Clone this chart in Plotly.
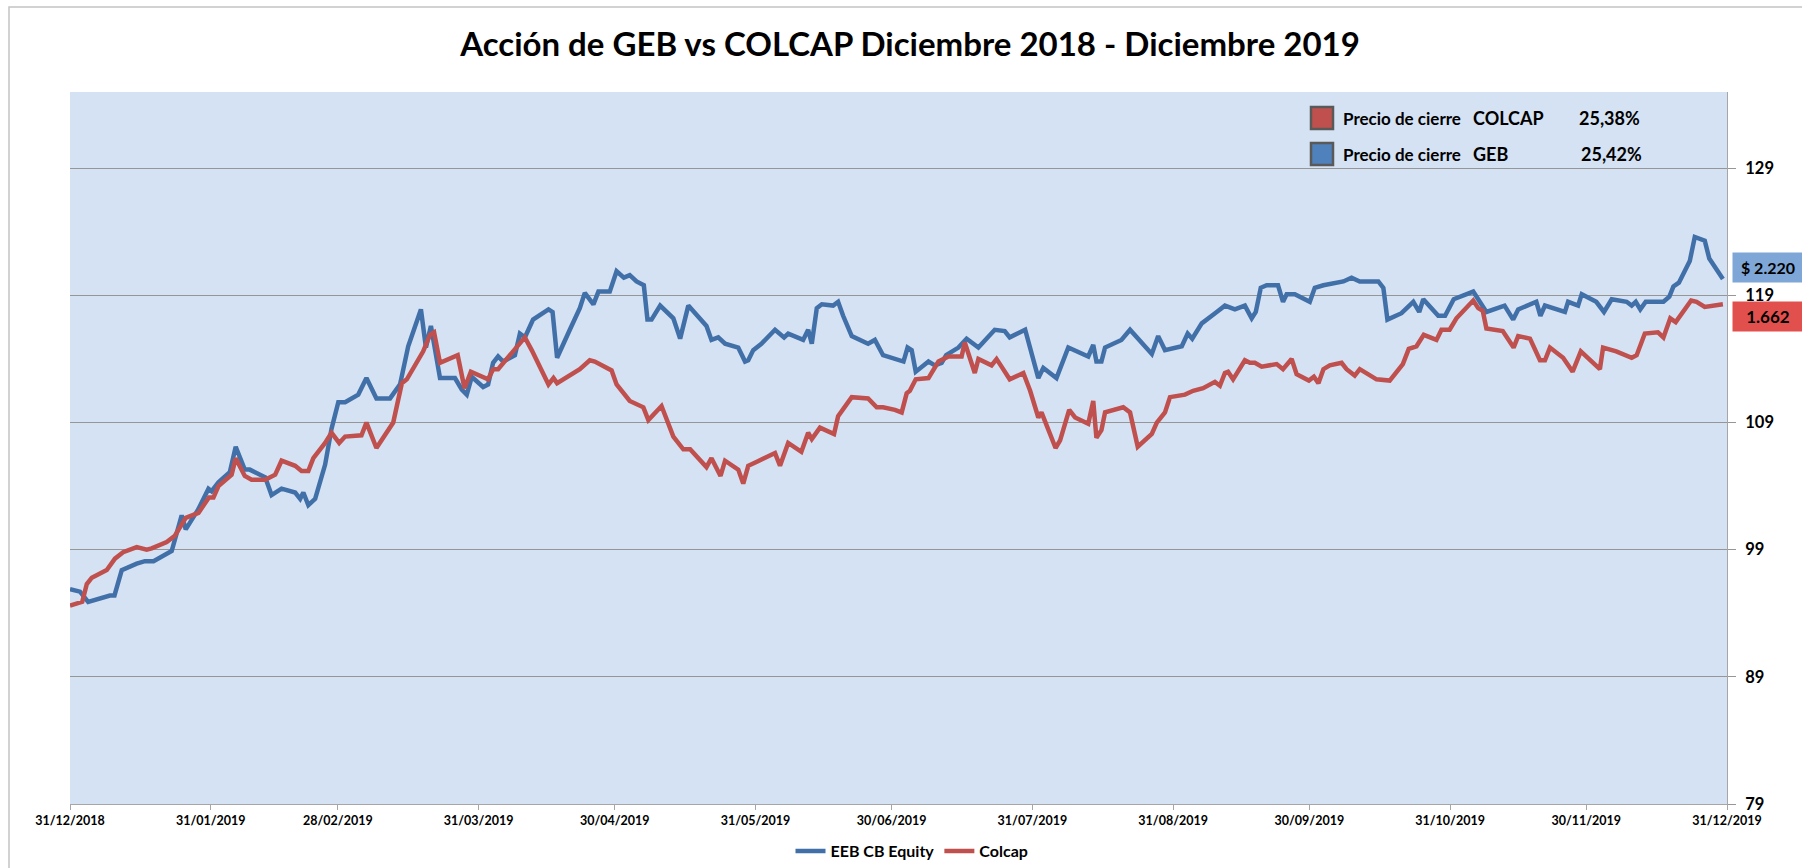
import numpy as np
import pandas as pd
import plotly.graph_objects as go

# ---------------- data ----------------
FECHA_BASE = "2018-12-31"   # day 0 of the offsets below

geb_dias = [0, 2.2, 4, 8.8, 9.8, 11.4, 14.7, 16.5, 18.4, 22.4, 24.6, 25.5, 28.3, 30.5, 31.2, 32.7,
            35.2, 36.5, 38.5, 39.6, 43, 44.4, 46.6, 49.6, 50.7, 51.4, 52.5, 54, 56.2, 57.6, 59.1,
            60.6, 63.5, 65.3, 67.5, 70.5, 72.7, 74.5, 77.3, 78.4, 79.5, 81.5, 84.8, 86.3, 87.4,
            88.5, 91.0, 92.1, 93.2, 94.3, 95.4, 98, 99.1, 100.2, 102, 105.4, 106.3, 107.3, 110.1,
            112.3, 113.4, 115.3, 116.4, 118.9, 120.4, 122, 123.3, 124.8, 126.4, 127.2, 128.1, 130,
            132.9, 134.4, 136.2, 138, 140.2, 141.3, 142.8, 144.3, 147.2, 148.7, 149.4, 150.5, 152.3,
            155.3, 157.3, 158.2, 161.5, 162.6, 163.4, 164.5, 165.6, 168.1, 169.2, 170.3, 172.2,
            175.8, 177.3, 179.1, 182.8, 183.6, 184.5, 185.4, 186.3, 189.1, 190.5, 192, 193, 195.7,
            197.5, 200.1, 203.7, 205.9, 207, 210.4, 213.3, 214.4, 217.3, 219.9, 224.3, 225.4, 226.1,
            227.2, 228, 231.6, 233.5, 238.3, 239.7, 241.2, 244.9, 246.2, 247.2, 249.3, 252.6, 254.4,
            256.6, 258.8, 260.3, 261.2, 262.3, 263.6, 266.1, 267.2, 268, 269.8, 273.1, 274.2, 276.1,
            280.5, 282.3, 284.1, 288.2, 289.3, 290.2, 293.3, 295.9, 297.2, 298.1, 301.4, 302.9,
            304.8, 309.1, 312, 316, 317.9, 319, 323, 323.9, 324.9, 329.3, 330, 332.2, 333.0, 336.2,
            337.9, 339.6, 342.9, 344, 344.9, 345.9, 347.1, 351, 352.3, 353.2, 354.4, 356.8, 357.9,
            360.1, 361.1, 364.1]
geb_valor = [95.9, 95.7, 94.9, 95.4, 95.4, 97.4, 97.9, 98.1, 98.1, 98.9, 101.7, 100.6, 102.2, 103.8,
             103.6, 104.3, 105.1, 107.1, 105.3, 105.3, 104.7, 103.3, 103.8, 103.5, 103.0, 103.5,
             102.5, 103.0, 105.7, 108.5, 110.6, 110.6, 111.2, 112.5, 110.9, 110.9, 112.0, 115.0,
             117.9, 114.9, 116.6, 112.5, 112.5, 111.6, 111.2, 112.6, 111.8, 112.0, 113.7, 114.2,
             113.8, 114.3, 116.0, 115.7, 117.1, 117.9, 117.7, 114.1, 116.3, 118.0, 119.2, 118.3,
             119.3, 119.3, 120.9, 120.4, 120.6, 120.1, 119.8, 117.1, 117.1, 118.2, 117.2, 115.6,
             118.2, 117.5, 116.6, 115.5, 115.7, 115.2, 114.9, 113.8, 113.9, 114.7, 115.2, 116.3,
             115.7, 116.0, 115.5, 116.3, 115.2, 118.0, 118.3, 118.2, 118.5, 117.4, 115.8, 115.2,
             115.5, 114.3, 113.9, 113.8, 114.9, 114.7, 113.0, 113.8, 113.5, 113.7, 114.3, 114.9,
             115.6, 114.9, 116.3, 116.2, 115.7, 116.3, 112.5, 113.3, 112.5, 114.9, 114.2, 115.1,
             113.8, 113.8, 114.9, 115.5, 116.3, 114.4, 115.8, 114.7, 115.0, 116.0, 115.6, 116.8,
             117.7, 118.2, 117.9, 118.2, 117.2, 117.7, 119.6, 119.8, 119.8, 118.5, 119.1, 119.1,
             118.5, 119.6, 119.8, 120.1, 120.4, 120.1, 120.1, 119.6, 117.1, 117.6, 118.5, 117.7,
             118.7, 117.4, 117.4, 118.7, 119.3, 117.7, 118.2, 117.1, 117.9, 118.5, 117.4, 118.2,
             117.7, 118.5, 118.2, 119.1, 118.5, 117.7, 118.7, 118.5, 118.2, 118.5, 117.9, 118.5,
             118.5, 118.9, 119.7, 120.0, 121.7, 123.6, 123.3, 121.9, 120.3]

colcap_dias = [0, 2.7, 3.7, 4.8, 8.1, 9.9, 11.7, 14.7, 16.9, 18, 21.3, 23.1, 25.5, 28.3, 30.6, 31.6,
               32.7, 35.6, 36.5, 38.5, 40, 43, 45.2, 46.6, 49.6, 51, 52.5, 53.6, 56.2, 57.6, 59.3,
               60.6, 64.2, 65.3, 67.5, 71.2, 73.1, 74.2, 77.8, 79.3, 80.2, 81.5, 85.4, 86.9, 88.3,
               91.0, 92.1, 93.2, 94.3, 100.2, 101.7, 105.4, 106.5, 107.3, 112.3, 114.5, 115.6, 119.3,
               120.4, 123.3, 126.3, 127.4, 130.3, 132.9, 135.1, 136.6, 140.2, 141.3, 143.3, 144.3,
               147.2, 148.3, 149.4, 151.2, 155.3, 156.4, 158.2, 161.1, 162.6, 163.4, 165.2, 168.3,
               169.2, 172.2, 175.8, 177.7, 179.1, 181.7, 183.2, 184.3, 185.0, 186.3, 189.1, 191.3,
               193.5, 196.4, 197.1, 199.3, 200.1, 203, 204.1, 205.2, 207, 210, 211.5, 213.3, 214,
               217.1, 218.1, 220.1, 221.4, 224.3, 225.4, 226.1, 227.2, 228, 232, 233.5, 235.2, 238.3,
               239.4, 241.2, 242.3, 245.6, 247.4, 249.6, 252.2, 253.3, 254.4, 255.1, 256.2, 258.8,
               259.9, 261, 262.5, 265.8, 267.2, 269.1, 270.2, 272.9, 274, 275, 276.1, 277.5, 280.1,
               281.2, 283, 284.1, 287.8, 290.7, 293.6, 294.9, 296.6, 298.2, 301, 302.1, 303.9, 305.4,
               309.1, 310.2, 311.2, 312, 315.6, 318, 319, 321.6, 323.8, 324.9, 326, 328.9, 331, 332.8,
               335.7, 337, 337.7, 340.6, 344, 345.1, 346.9, 349.8, 351, 352.5, 353.7, 357.1, 358.3,
               360.1, 364.1]
colcap_valor = [94.6, 94.9, 96.3, 96.8, 97.4, 98.3, 98.8, 99.2, 99.0, 99.1, 99.6, 100.1, 101.5, 101.9,
                103.1, 103.1, 104.0, 104.9, 106.2, 104.8, 104.5, 104.5, 104.9, 106.0, 105.6, 105.2,
                105.2, 106.2, 107.4, 108.2, 107.4, 107.9, 108.0, 109.0, 107.0, 109.0, 112.1, 112.4,
                114.6, 115.9, 116.1, 113.7, 114.3, 111.7, 113.0, 112.6, 112.4, 113.2, 113.2, 115.7,
                114.7, 112.0, 112.5, 112.1, 113.2, 113.9, 113.8, 113.1, 112.0, 110.7, 110.2, 109.2,
                110.3, 107.9, 106.9, 106.9, 105.5, 106.2, 104.8, 106.0, 105.3, 104.2, 105.6, 105.9,
                106.6, 105.6, 107.4, 106.7, 108.2, 107.7, 108.6, 108.1, 109.5, 111.0, 110.9, 110.2,
                110.2, 110.0, 109.8, 111.3, 111.5, 112.4, 112.5, 113.8, 114.2, 114.2, 115.3, 112.9,
                114.0, 113.5, 114.0, 113.4, 112.4, 112.9, 111.5, 109.4, 109.8, 107.0, 107.6, 110.0,
                109.4, 108.9, 110.7, 107.8, 108.4, 109.8, 110.2, 109.8, 107.1, 108.1, 109.0, 109.8,
                111.0, 111.2, 111.5, 111.7, 112.2, 111.9, 112.9, 113.0, 112.4, 113.9, 113.7, 113.7,
                113.4, 113.6, 113.2, 114.0, 112.8, 112.3, 112.6, 112.1, 113.2, 113.5, 113.7, 113.2,
                112.7, 113.2, 112.4, 112.3, 113.6, 114.8, 115.0, 115.9, 115.5, 116.3, 116.3, 117.2,
                118.6, 118.0, 117.8, 116.4, 116.2, 114.9, 115.8, 115.6, 113.9, 113.9, 114.9, 114.1,
                113.0, 114.6, 113.7, 113.2, 114.9, 114.6, 114.1, 114.3, 116.0, 116.1, 115.7, 117.2,
                116.9, 118.6, 118.5, 118.1, 118.3]

tick_fechas = ["2018-12-31", "2019-01-31", "2019-02-28", "2019-03-31", "2019-04-30", "2019-05-31",
               "2019-06-30", "2019-07-31", "2019-08-31", "2019-09-30", "2019-10-31", "2019-11-30",
               "2019-12-31"]
tick_textos = ["31/12/2018", "31/01/2019", "28/02/2019", "31/03/2019", "30/04/2019", "31/05/2019",
               "30/06/2019", "31/07/2019", "31/08/2019", "30/09/2019", "31/10/2019", "30/11/2019",
               "31/12/2019"]
y_ticks = [79, 89, 99, 109, 119, 129]
y_rango = [79, 135]

serie_nombres = ["EEB CB Equity", "Colcap"]
caja_etiquetas = ["Precio de cierre", "Precio de cierre"]
caja_indices = ["COLCAP", "GEB"]
caja_rendimientos = ["25,38%", "25,42%"]
ultimo_geb = "$ 2.220"
ultimo_colcap = "1.662"
titulo = "Acción de GEB vs COLCAP Diciembre 2018 - Diciembre 2019"

# ---------------- styling ----------------
AZUL = "#4170a8"
ROJO = "#c0504d"
FONT = "Lato, 'Open Sans', sans-serif"
W, H = 1802, 868
PX0, PX1, PY0, PY1 = 70, 1727, 92, 804


def px(x):
    return (x - PX0) / (PX1 - PX0)


def py(y):
    return (PY1 - y) / (PY1 - PY0)


base = pd.Timestamp(FECHA_BASE)
x_geb = base + pd.to_timedelta(np.array(geb_dias), unit="D")
x_col = base + pd.to_timedelta(np.array(colcap_dias), unit="D")

fig = go.Figure()
fig.add_trace(go.Scatter(x=x_geb, y=geb_valor, mode="lines", name="<b>%s</b>" % serie_nombres[0],
                         line=dict(color=AZUL, width=4.5)))
fig.add_trace(go.Scatter(x=x_col, y=colcap_valor, mode="lines", name="<b>%s</b>" % serie_nombres[1],
                         line=dict(color=ROJO, width=4.5)))

shapes = []
# outer chart frame
shapes.append(dict(type="rect", xref="paper", yref="paper", x0=px(9), x1=px(1830),
                   y0=py(900), y1=py(7), line=dict(color="#c4c4c4", width=1.5),
                   fillcolor="rgba(0,0,0,0)", layer="below"))
# legend-box squares
for yc, col in [(118, ROJO), (154, "#4f81bd")]:
    shapes.append(dict(type="rect", xref="paper", yref="paper", x0=px(1311), x1=px(1333),
                       y0=py(yc + 11), y1=py(yc - 11), line=dict(color="#595959", width=2.5),
                       fillcolor=col))

annotations = []
for i, yc in enumerate([118, 154]):
    annotations.append(dict(xref="paper", yref="paper", x=px(1341), y=py(yc), xanchor="left",
                            yanchor="middle", showarrow=False, text="<b>%s</b>" % caja_etiquetas[i],
                            font=dict(family=FONT, size=17, color="black")))
    annotations.append(dict(xref="paper", yref="paper", x=px(1471), y=py(yc), xanchor="left",
                            yanchor="middle", showarrow=False, text="<b>%s</b>" % caja_indices[i],
                            font=dict(family=FONT, size=18, color="black")))
    annotations.append(dict(xref="paper", yref="paper", x=px(1577 + 2 * i), y=py(yc), xanchor="left",
                            yanchor="middle", showarrow=False, text="<b>%s</b>" % caja_rendimientos[i],
                            font=dict(family=FONT, size=18, color="black")))

# last value boxes on the right
annotations.append(dict(xref="paper", yref="paper", x=px(1732), y=py(267.5), xanchor="left",
                        yanchor="middle", showarrow=False, text="<b>%s</b>" % ultimo_geb,
                        bgcolor="#7ea6d6", width=70, height=29, align="center",
                        font=dict(family=FONT, size=16, color="black"), borderpad=0))
annotations.append(dict(xref="paper", yref="paper", x=px(1732), y=py(316.5), xanchor="left",
                        yanchor="middle", showarrow=False, text="<b>%s</b>" % ultimo_colcap,
                        bgcolor="#e2504e", width=70, height=29, align="center",
                        font=dict(family=FONT, size=17, color="black"), borderpad=0))

fig.update_layout(
    width=W, height=H,
    margin=dict(l=PX0, r=W - PX1, t=PY0, b=H - PY1, autoexpand=False),
    paper_bgcolor="white",
    plot_bgcolor="#d5e2f3",
    title=dict(text="<b>%s</b>" % titulo, x=px(910), xref="paper", xanchor="center",
               y=1 - 44 / H, yanchor="middle", font=dict(family=FONT, size=33, color="black")),
    xaxis=dict(type="date", range=[tick_fechas[0], tick_fechas[-1]], tickvals=tick_fechas,
               ticktext=["<b>%s</b>" % t for t in tick_textos], ticks="outside", ticklen=5,
               tickcolor="#a6a6a6", showline=True, linecolor="#a6a6a6", linewidth=1,
               showgrid=False, zeroline=False, automargin=False,
               tickfont=dict(family=FONT, size=12.5, color="black")),
    yaxis=dict(side="right", range=y_rango, tickvals=y_ticks,
               ticktext=["<b>%d</b>" % v for v in y_ticks], ticks="outside", ticklen=8,
               tickcolor="#969696", showgrid=True, gridcolor="#969696", gridwidth=1,
               showline=True, linecolor="#a6a6a6", zeroline=False, automargin=False,
               ticklabelstandoff=6,
               tickfont=dict(family=FONT, size=16.5, color="black")),
    legend=dict(orientation="h", xref="container", yref="container", x=912 / W, xanchor="center",
                y=1 - 851 / H, yanchor="middle",
                font=dict(family=FONT, size=16, color="black"), itemwidth=30,
                bgcolor="rgba(0,0,0,0)", traceorder="normal"),
    showlegend=True,
    shapes=shapes,
    annotations=annotations,
)

fig.write_html("out.html", config={"displayModeBar": False},
               post_script="document.body.style.margin='0';document.body.style.overflow='hidden';")
